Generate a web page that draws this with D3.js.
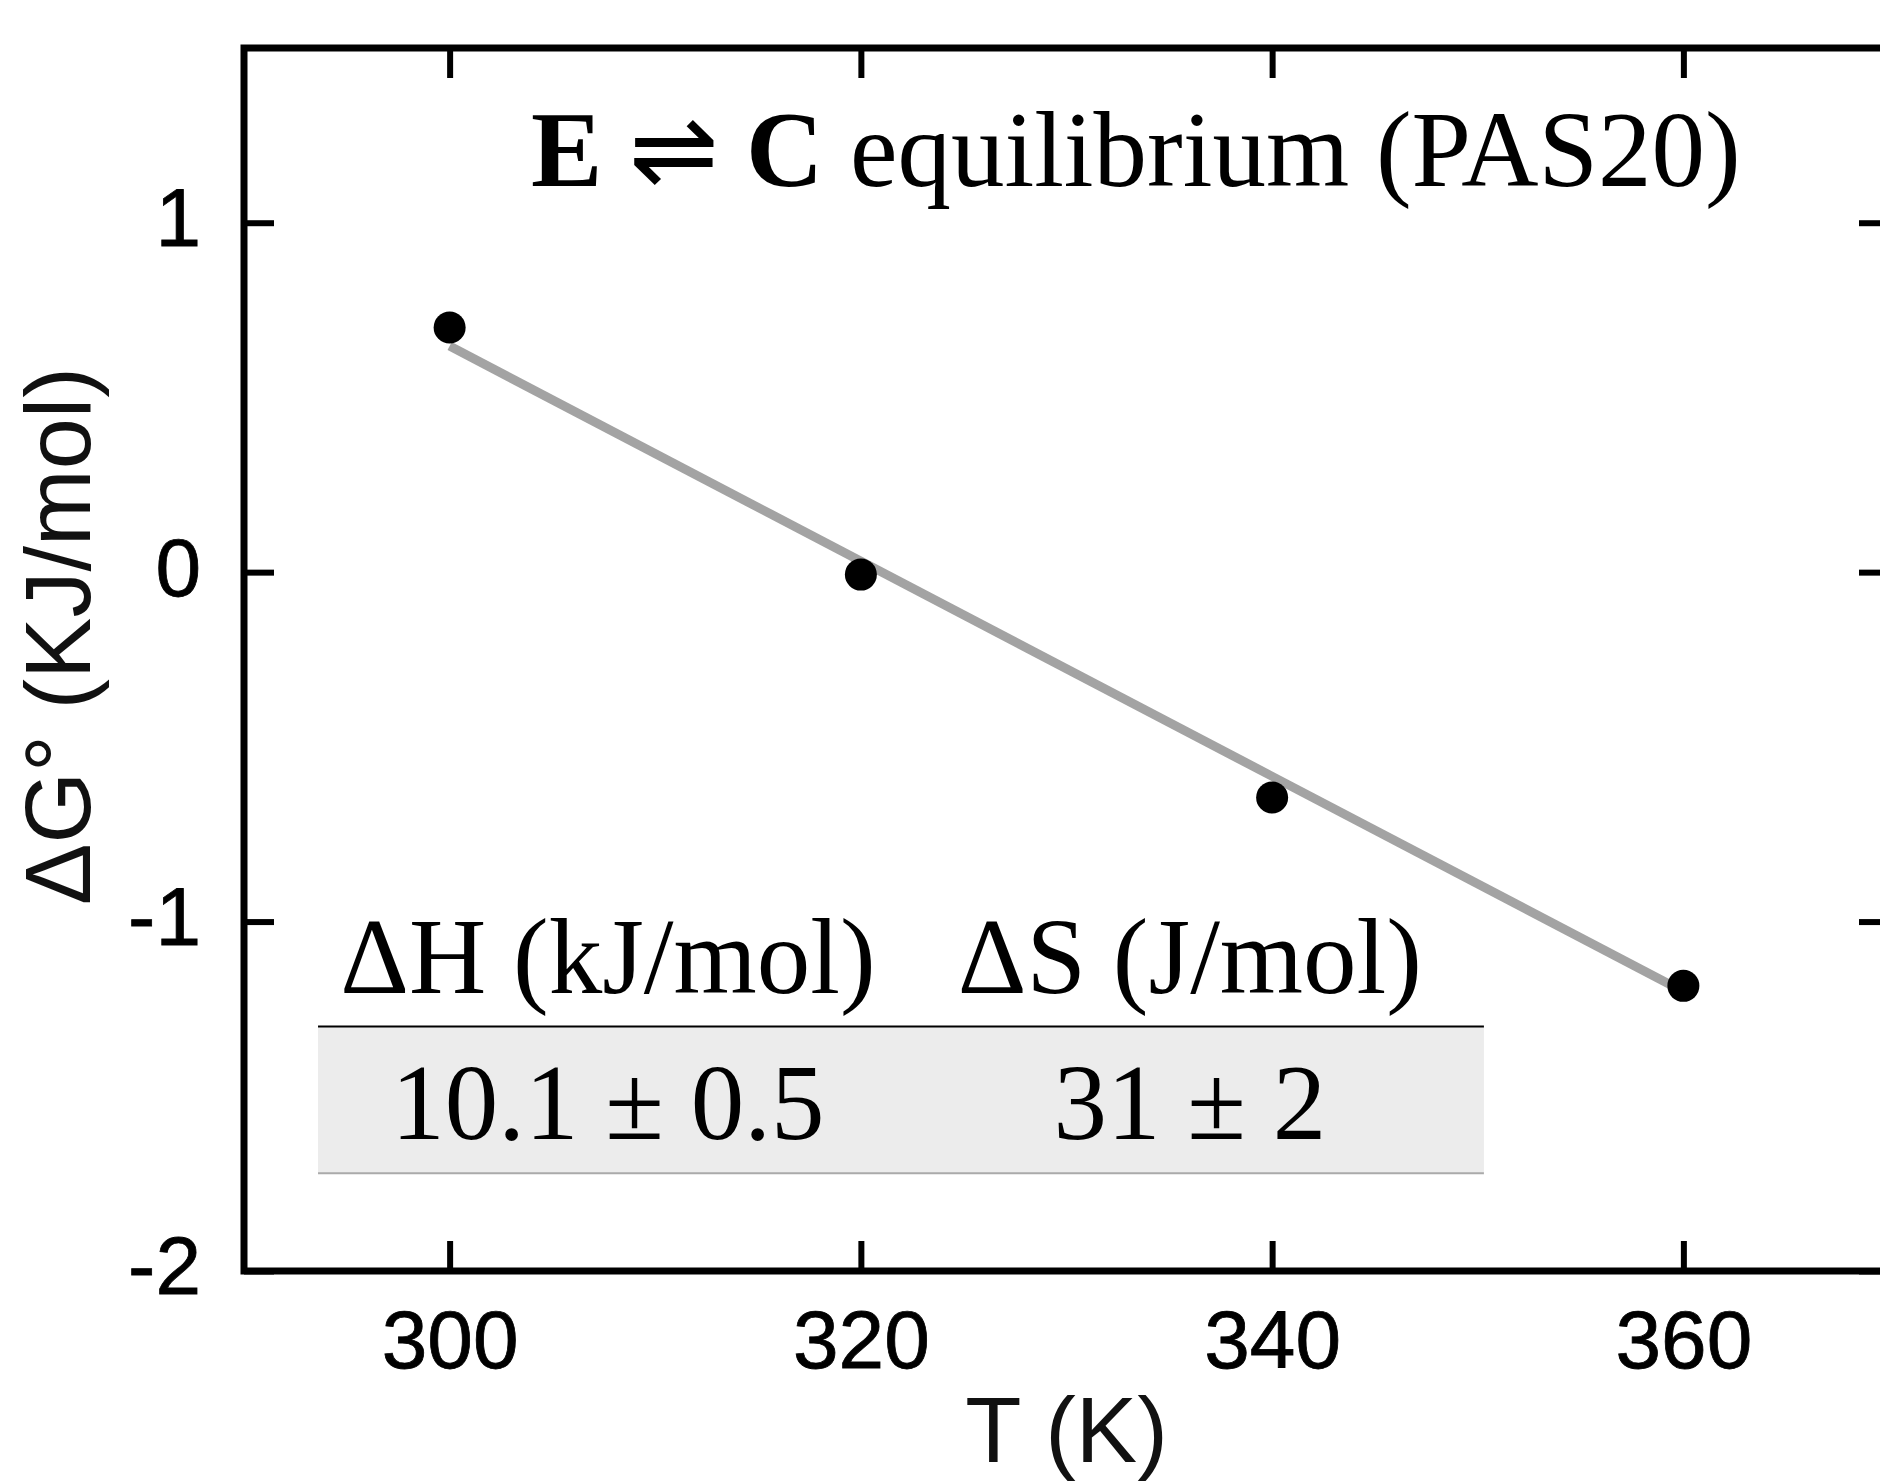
<!DOCTYPE html>
<html>
<head>
<meta charset="utf-8">
<script src="https://cdn.jsdelivr.net/npm/d3@7"></script>
<style>
  html, body { margin: 0; padding: 0; background: #fff; }
  .axis text { font-family: "Liberation Sans", Arial, sans-serif; font-size: 82px; fill: #000; stroke: #000; stroke-width: 0.8px; }
  .serif { font-family: "Liberation Serif", "Times New Roman", serif; fill: #000; }
</style>
</head>
<body>
<div id="canvas"></div>
<script>
// data
var temps = [300, 320, 340, 360];
var dG = [0.70, -0.007, -0.645, -1.184];
// linear fit (end points)
var fitT = [300, 360];
var fitG = [0.647, -1.20];
var xTicks = [300, 320, 340, 360];
var yTicks = [1, 0, -1, -2];
var tableHead = ["\u0394H (kJ/mol)", "\u0394S (J/mol)"];
var tableVals = ["10.1 \u00b1 0.5", "31 \u00b1 2"];

var W = 1880, H = 1484;
var m = {t:48, r:-9, b:213, l:244};

var svg = d3.select('#canvas')
    .append('svg')
    .attr('width', W)
    .attr('height', H);

var scaleX = d3.scaleLinear().domain([290, 370]).range([m.l, W - m.r]);
var scaleY = d3.scaleLinear().domain([-2, 1.5]).range([H - m.b, m.t]);

// fit line
svg.append('path')
    .datum(d3.zip(fitT, fitG))
    .attr('d', d3.line().x(function(d){ return scaleX(d[0]); }).y(function(d){ return scaleY(d[1]); }))
    .attr('fill', 'none')
    .attr('stroke', '#a3a3a3')
    .attr('stroke-width', 9);

// points
svg.selectAll('circle.pt')
    .data(d3.zip(temps, dG))
    .enter()
    .append('circle')
    .attr('class', 'pt')
    .attr('cx', function(d){ return scaleX(d[0]); })
    .attr('cy', function(d){ return scaleY(d[1]); })
    .attr('r', 16)
    .attr('fill', '#000');

// axes, ticks pointing inward
var axB = svg.append('g').attr('class', 'axis')
    .attr('transform', 'translate(0,' + scaleY(-2) + ')')
    .call(d3.axisBottom(scaleX).tickValues(xTicks).tickSizeInner(-30).tickSizeOuter(0).tickPadding(39));
var axT = svg.append('g').attr('class', 'axis')
    .attr('transform', 'translate(0,' + scaleY(1.5) + ')')
    .call(d3.axisTop(scaleX).tickValues(xTicks).tickSizeInner(-30).tickSizeOuter(0).tickFormat(''));
var axL = svg.append('g').attr('class', 'axis')
    .attr('transform', 'translate(' + scaleX(290) + ',0)')
    .call(d3.axisLeft(scaleY).tickValues(yTicks).tickSizeInner(-30).tickSizeOuter(0).tickPadding(43).tickFormat(d3.format('d')));
var axR = svg.append('g').attr('class', 'axis')
    .attr('transform', 'translate(' + scaleX(370) + ',0)')
    .call(d3.axisRight(scaleY).tickValues(yTicks).tickSizeInner(-30).tickSizeOuter(0).tickFormat(''));

svg.selectAll('.axis .domain').remove();
svg.selectAll('.axis .tick line').attr('stroke', '#000').attr('stroke-width', 6);
axL.selectAll('.tick text').attr('dy', '0.28em').text(function(d){ return String(d).replace('\u2212', '-'); });

// frame
svg.append('rect')
    .attr('x', scaleX(290))
    .attr('y', scaleY(1.5))
    .attr('width', scaleX(370) - scaleX(290))
    .attr('height', scaleY(-2) - scaleY(1.5))
    .attr('fill', 'none')
    .attr('stroke', '#000')
    .attr('stroke-width', 7);

// axis titles
svg.append('text')
    .attr('class', 'axis-title')
    .attr('x', scaleX(330))
    .attr('y', 1462)
    .attr('text-anchor', 'middle')
    .style('font-family', '"Liberation Sans", Arial, sans-serif')
    .style('font-size', '92px')
    .style('fill', '#111')
    .text('T (K)');

svg.append('text')
    .attr('transform', 'translate(90,' + 636 + ') rotate(-90)')
    .attr('text-anchor', 'middle')
    .style('font-family', '"Liberation Sans", Arial, sans-serif')
    .style('font-size', '92px')
    .style('fill', '#111')
    .text('\u0394G\u00b0 (KJ/mol)');

// title
var title = svg.append('text')
    .attr('class', 'serif')
    .attr('x', 531)
    .attr('y', 186)
    .style('font-size', '107px');
title.append('tspan').style('font-weight', 'bold').text('E');
title.append('tspan').text(' \u21cc ');
title.append('tspan').style('font-weight', 'bold').text('C');
title.append('tspan').text(' equilibrium (PAS20)');

// table
var tX0 = scaleX(293.6), tX1 = scaleX(350.3);
var colX = [scaleX(307.7), scaleX(336.0)];
svg.append('rect')
    .attr('x', tX0)
    .attr('y', scaleY(-1.3))
    .attr('width', tX1 - tX0)
    .attr('height', scaleY(-1.72) - scaleY(-1.3))
    .attr('fill', '#ececec');
svg.append('line')
    .attr('x1', tX0).attr('x2', tX1)
    .attr('y1', scaleY(-1.3)).attr('y2', scaleY(-1.3))
    .attr('stroke', '#000').attr('stroke-width', 2);
svg.append('line')
    .attr('x1', tX0).attr('x2', tX1)
    .attr('y1', scaleY(-1.72)).attr('y2', scaleY(-1.72))
    .attr('stroke', '#aaa').attr('stroke-width', 2);

svg.selectAll('text.thead')
    .data(tableHead)
    .enter()
    .append('text')
    .attr('class', 'thead serif')
    .attr('x', function(d, i){ return colX[i]; })
    .attr('y', scaleY(-1.205))
    .attr('text-anchor', 'middle')
    .style('font-size', '107px')
    .text(function(d){ return d; });

svg.selectAll('text.tval')
    .data(tableVals)
    .enter()
    .append('text')
    .attr('class', 'tval serif')
    .attr('x', function(d, i){ return colX[i]; })
    .attr('y', scaleY(-1.623))
    .attr('text-anchor', 'middle')
    .style('font-size', '107px')
    .text(function(d){ return d; });
</script>
</body>
</html>
